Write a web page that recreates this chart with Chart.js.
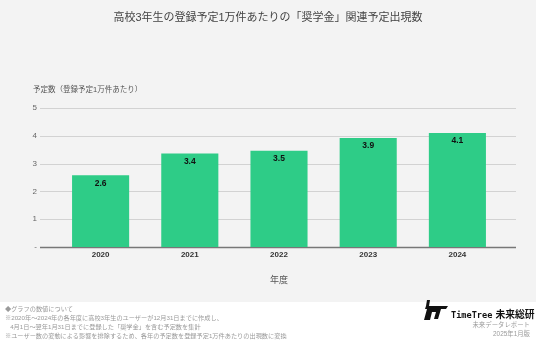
<!DOCTYPE html>
<html>
<head>
<meta charset="utf-8">
<script src="https://cdn.jsdelivr.net/npm/chart.js@4"></script>
<style>
body { margin: 0; background: #fff; }
#wrap { position: relative; width: 536px; height: 348px; font-family: "Liberation Sans", "Noto Sans CJK JP", sans-serif; }
canvas { position: absolute; left: 0; top: 0; }
.notes { position: absolute; left: 5px; top: 304px; font-size: 6.2px; line-height: 9px; color: #9a9a9a; white-space: nowrap; }
.logo { position: absolute; left: 424px; top: 300px; height: 20px; }
.brand { position: absolute; left: 451px; top: 304px; font-weight: bold; color: #111; white-space: nowrap; }
.brand .en { font-family: "DejaVu Sans Mono", monospace; font-size: 8.6px; }
.brand .jp { font-family: "Noto Sans CJK JP", sans-serif; font-size: 9.8px; margin-left: 3px; }
.report { position: absolute; right: 6px; top: 320px; font-size: 6.4px; line-height: 9px; color: #9a9a9a; text-align: right; white-space: nowrap; }
</style>
</head>
<body>
<div id="wrap">
  <canvas id="chanceChart" width="536" height="348"></canvas>
  <div class="notes">
    ◆グラフの数値について<br>
    ※2020年～2024年の各年度に高校3年生のユーザーが12月31日までに作成し、<br>
    &nbsp;&nbsp;&nbsp;4月1日～翌年1月31日までに登録した「奨学金」を含む予定数を集計<br>
    ※ユーザー数の変動による影響を排除するため、各年の予定数を登録予定1万件あたりの出現数に変換
  </div>
  <svg class="logo" viewBox="0 0 24 20">
    <polygon points="2,6 24,6 22,9 17,9 14,19 10,19 12,12 8,12 6,20 0,20 3,9 1,9" fill="#111"/>
    <polygon points="3,0 6,0 5,6 2,6" fill="#111"/>
  </svg>
  <div class="brand"><span class="en">TimeTree</span><span class="jp">未来総研</span></div>
  <div class="report">未来データレポート<br>2025年1月版</div>
</div>
<script>
// data
const years = ['2020', '2021', '2022', '2023', '2024'];
const counts = [2.58, 3.36, 3.46, 3.92, 4.1];
const yTicks = [0, 1, 2, 3, 4, 5];

const jpFont = '"Liberation Sans", "Noto Sans CJK JP", sans-serif';

// background, titles and horizontal grid lines
const backdrop = {
    id: 'backdrop',
    beforeDraw(chart) {
        const ctx = chart.ctx;
        const y = chart.scales.y;
        const area = chart.chartArea;
        ctx.save();
        ctx.fillStyle = '#f3f3f3';
        ctx.fillRect(0, 0, chart.width, 302);

        ctx.fillStyle = '#444';
        ctx.font = '11px ' + jpFont;
        ctx.textAlign = 'center';
        ctx.textBaseline = 'middle';
        ctx.fillText('高校3年生の登録予定1万件あたりの「奨学金」関連予定出現数', 268, 18);

        ctx.fillStyle = '#555';
        ctx.font = '7.5px ' + jpFont;
        ctx.textAlign = 'left';
        ctx.fillText('予定数（登録予定1万件あたり）', 33, 90);

        ctx.font = '9px ' + jpFont;
        ctx.textAlign = 'center';
        ctx.fillText('年度', (area.left + area.right) / 2, 281);

        y.ticks.forEach(t => {
            const py = Math.round(y.getPixelForValue(t.value)) + 0.5;
            ctx.strokeStyle = t.value === 0 ? '#777' : '#d2d2d2';
            ctx.lineWidth = t.value === 0 ? 1.5 : 1;
            ctx.beginPath();
            ctx.moveTo(40, py);
            ctx.lineTo(516, py);
            ctx.stroke();
        });
        ctx.restore();
    },
    afterDatasetsDraw(chart) {
        const ctx = chart.ctx;
        const meta = chart.getDatasetMeta(0);
        ctx.save();
        ctx.fillStyle = '#111';
        ctx.font = 'bold 8.5px ' + jpFont;
        ctx.textAlign = 'center';
        ctx.textBaseline = 'middle';
        meta.data.forEach((bar, i) => {
            ctx.fillText(counts[i].toFixed(1), bar.x, bar.y + 8);
        });
        ctx.restore();
    }
};

const ctx = document.getElementById('chanceChart').getContext('2d');
const chanceChart = new Chart(ctx, {
    type: 'bar',
    data: {
        labels: years,
        datasets: [{
            data: counts,
            backgroundColor: '#2ecc87',
            borderWidth: 0,
            categoryPercentage: 1,
            barPercentage: 0.64
        }]
    },
    options: {
        responsive: false,
        animation: false,
        layout: {
            padding: { left: 0, right: 34, top: 108, bottom: 81 }
        },
        plugins: {
            legend: { display: false },
            tooltip: { enabled: false }
        },
        scales: {
            y: {
                min: 0,
                max: 5,
                afterFit(scale) { scale.width = 56; },
                afterBuildTicks(scale) { scale.ticks = yTicks.map(v => ({ value: v })); },
                border: { display: false },
                grid: { display: false, drawTicks: false },
                ticks: {
                    padding: 19,
                    color: '#666',
                    font: { size: 8, family: jpFont },
                    callback: v => v === 0 ? '-' : v
                }
            },
            x: {
                afterFit(scale) { scale.height = 20; },
                border: { display: false },
                grid: { display: false, drawTicks: false },
                ticks: {
                    padding: 3,
                    color: '#333',
                    font: { size: 8, weight: 'bold', family: jpFont }
                }
            }
        }
    },
    plugins: [backdrop]
});
</script>
</body>
</html>
